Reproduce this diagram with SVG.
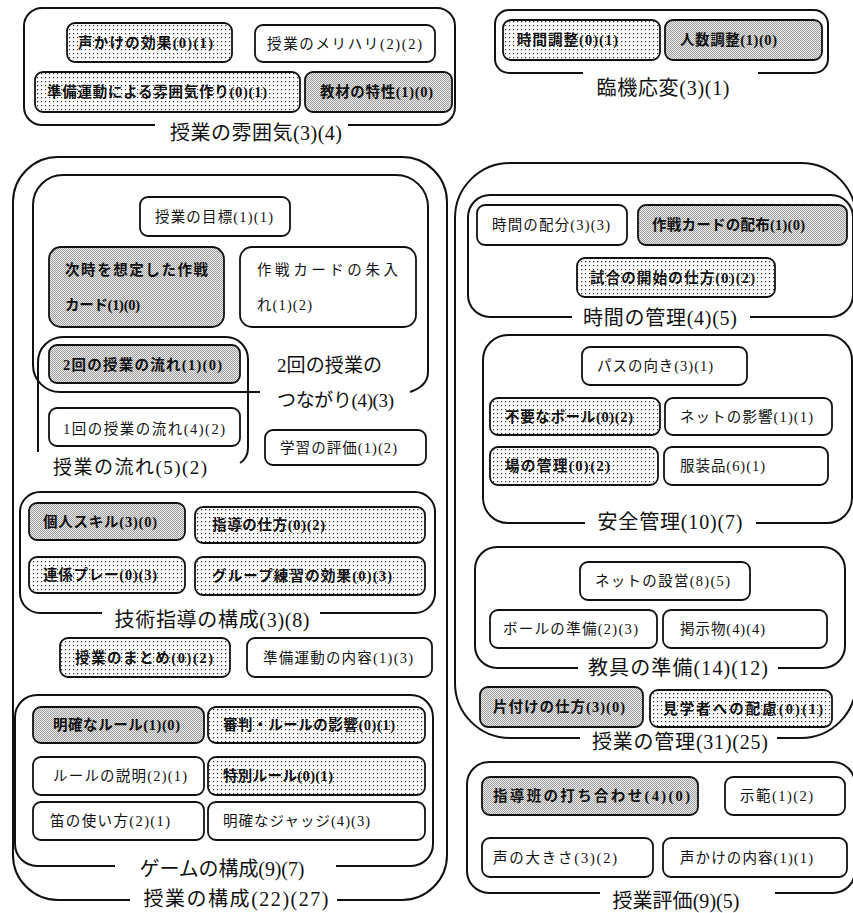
<svg xmlns="http://www.w3.org/2000/svg" width="853" height="913" viewBox="0 0 853 913">
<defs>
<pattern id="gray" width="2" height="2" patternUnits="userSpaceOnUse"><rect width="2" height="2" fill="#ececec"/><rect width="1" height="1" fill="#9e9e9e"/><rect x="1" y="1" width="1" height="1" fill="#9e9e9e"/></pattern>
<pattern id="dots" width="4" height="4" patternUnits="userSpaceOnUse"><rect width="4" height="4" fill="#fff"/><rect x="1" y="1" width="1.2" height="1.2" fill="#333"/></pattern>
<style>
.grp{fill:none;stroke:#111;stroke-width:2}
.n rect{stroke:#111;stroke-width:1.8}
.w rect{fill:#fff}
.g rect{fill:url(#gray)}
.d rect{fill:url(#dots)}
text{font-family:"Liberation Serif","Noto Sans CJK JP",serif;fill:#111}
.n text{font-size:14.5px;dominant-baseline:central}
.g text,.d text{font-weight:bold}
.lbl{font-size:20px;dominant-baseline:central;text-anchor:middle}
.lbs{font-size:19px;dominant-baseline:central}
</style>
</defs>

<g id="groups">
<g id="grp-fun"><path class="grp" d="M348,125 L437,125 A18,18 0 0 0 455,107 L455,26 A18,18 0 0 0 437,8 L42,8 A18,18 0 0 0 24,26 L24,107 A18,18 0 0 0 42,125 L155,125"/><text class="lbl" x="256" y="133" textLength="172" lengthAdjust="spacing">授業の雰囲気(3)(4)</text></g>
<g id="grp-rinki"><path class="grp" d="M758,73 L814,73 A14,14 0 0 0 828,59 L828,24 A14,14 0 0 0 814,10 L509,10 A14,14 0 0 0 495,24 L495,59 A14,14 0 0 0 509,73 L583,73"/><text class="lbl" x="663" y="88" textLength="133" lengthAdjust="spacing">臨機応変(3)(1)</text></g>
<g id="grp-kosei"><path class="grp" d="M337,900 L402,900 A45,45 0 0 0 447,855 L447,202 A45,45 0 0 0 402,157 L58,157 A45,45 0 0 0 13,202 L13,855 A45,45 0 0 0 58,900 L130,900"/><text class="lbl" x="236" y="899" textLength="185" lengthAdjust="spacing">授業の構成(22)(27)</text></g>
<g id="grp-tsunagari"><path class="grp" d="M260,392 L60,392 A27,27 0 0 1 33,365 L33,205 A30,30 0 0 1 63,175 L396,175 A32,32 0 0 1 428,207 L428,372 Q428,386 410,392"/><text class="lbs" x="277" y="365" textLength="105" lengthAdjust="spacing">2回の授業の</text><text class="lbs" x="277" y="400" textLength="117" lengthAdjust="spacing">つながり(4)(3)</text></g>
<g id="grp-nagare"><path class="grp" d="M38,452 L38,362 A25,25 0 0 1 63,337 L226,337 A22,22 0 0 1 248,359 L248,448 Q248,458 240,463"/><text class="lbs" x="53" y="467" textLength="154" lengthAdjust="spacing">授業の流れ(5)(2)</text></g>
<g id="grp-gijutsu"><path class="grp" d="M320,613 L415,613 A20,20 0 0 0 435,593 L435,512 A20,20 0 0 0 415,492 L40,492 A20,20 0 0 0 20,512 L20,593 A20,20 0 0 0 40,613 L102,613"/><text class="lbl" x="212" y="620" textLength="195" lengthAdjust="spacing">技術指導の構成(3)(8)</text></g>
<g id="grp-game"><path class="grp" d="M336,866 L411,866 A22,22 0 0 0 433,844 L433,717 A22,22 0 0 0 411,695 L37,695 A22,22 0 0 0 15,717 L15,844 A22,22 0 0 0 37,866 L115,866"/><text class="lbl" x="222" y="869" textLength="165" lengthAdjust="spacing">ゲームの構成(9)(7)</text></g>
<g id="grp-kanri"><path class="grp" d="M777,738 L801,738 A55,55 0 0 0 856,683 L856,218 A55,55 0 0 0 801,163 L510,163 A55,55 0 0 0 455,218 L455,683 A55,55 0 0 0 510,738 L580,738"/><text class="lbl" x="680" y="742" textLength="176" lengthAdjust="spacing">授業の管理(31)(25)</text></g>
<g id="grp-jikan"><path class="grp" d="M750,317 L831,317 A22,22 0 0 0 853,295 L853,217 A22,22 0 0 0 831,195 L490,195 A22,22 0 0 0 468,217 L468,295 A22,22 0 0 0 490,317 L572,317"/><text class="lbl" x="660" y="318" textLength="154" lengthAdjust="spacing">時間の管理(4)(5)</text></g>
<g id="grp-anzen"><path class="grp" d="M756,523 L827,523 A25,25 0 0 0 852,498 L852,360 A25,25 0 0 0 827,335 L508,335 A25,25 0 0 0 483,360 L483,498 A25,25 0 0 0 508,523 L585,523"/><text class="lbl" x="670" y="522" textLength="145" lengthAdjust="spacing">安全管理(10)(7)</text></g>
<g id="grp-kyogu"><path class="grp" d="M778,668 L823,668 A22,22 0 0 0 845,646 L845,569 A22,22 0 0 0 823,547 L497,547 A22,22 0 0 0 475,569 L475,646 A22,22 0 0 0 497,668 L578,668"/><text class="lbl" x="678" y="668" textLength="180" lengthAdjust="spacing">教具の準備(14)(12)</text></g>
<g id="grp-hyoka"><path class="grp" d="M775,893 L833,893 A22,22 0 0 0 855,871 L855,784 A22,22 0 0 0 833,762 L489,762 A22,22 0 0 0 467,784 L467,871 A22,22 0 0 0 489,893 L600,893"/><text class="lbl" x="676" y="901" textLength="127" lengthAdjust="spacing">授業評価(9)(5)</text></g>
</g>

<g id="n1" class="n d"><rect x="67" y="23" width="165" height="39" rx="8"/><text x="78" y="43" textLength="135" lengthAdjust="spacing">声かけの効果(0)(1)</text></g>
<g id="n2" class="n w"><rect x="255" y="25" width="180" height="37" rx="8"/><text x="267" y="44" textLength="155" lengthAdjust="spacing">授業のメリハリ(2)(2)</text></g>
<g id="n3" class="n d"><rect x="35" y="72" width="265" height="40" rx="8"/><text x="47" y="92" textLength="220" lengthAdjust="spacing">準備運動による雰囲気作り(0)(1)</text></g>
<g id="n4" class="n g"><rect x="305" y="72" width="147" height="40" rx="8"/><text x="320" y="92" textLength="113" lengthAdjust="spacing">教材の特性(1)(0)</text></g>
<g id="n5" class="n d"><rect x="503" y="20" width="157" height="40" rx="8"/><text x="517" y="40" textLength="101" lengthAdjust="spacing">時間調整(0)(1)</text></g>
<g id="n6" class="n g"><rect x="665" y="20" width="157" height="40" rx="8"/><text x="680" y="40" textLength="97" lengthAdjust="spacing">人数調整(1)(0)</text></g>

<g id="n7" class="n w"><rect x="140" y="197" width="150" height="39" rx="8"/><text x="155" y="217" textLength="118" lengthAdjust="spacing">授業の目標(1)(1)</text></g>
<g id="n8" class="n g"><rect x="49" y="247" width="175" height="80" rx="12"/><text x="65" y="270" textLength="143" lengthAdjust="spacing">次時を想定した作戦</text><text x="65" y="305" textLength="75" lengthAdjust="spacing">カード(1)(0)</text></g>
<g id="n9" class="n w"><rect x="240" y="247" width="176" height="80" rx="12"/><text x="257" y="270" textLength="141" lengthAdjust="spacing">作戦カードの朱入</text><text x="257" y="305" textLength="55" lengthAdjust="spacing">れ(1)(2)</text></g>
<g id="n10" class="n g"><rect x="49" y="345" width="191" height="38" rx="8"/><text x="63" y="365" textLength="159" lengthAdjust="spacing">2回の授業の流れ(1)(0)</text></g>
<g id="n11" class="n w"><rect x="49" y="408" width="191" height="38" rx="8"/><text x="63" y="429" textLength="162" lengthAdjust="spacing">1回の授業の流れ(4)(2)</text></g>
<g id="n12" class="n w"><rect x="265" y="430" width="161" height="35" rx="8"/><text x="280" y="448" textLength="117" lengthAdjust="spacing">学習の評価(1)(2)</text></g>

<g id="n13" class="n g"><rect x="29" y="503" width="156" height="37" rx="8"/><text x="43" y="522" textLength="114" lengthAdjust="spacing">個人スキル(3)(0)</text></g>
<g id="n14" class="n d"><rect x="195" y="507" width="230" height="36" rx="8"/><text x="212" y="525" textLength="113" lengthAdjust="spacing">指導の仕方(0)(2)</text></g>
<g id="n15" class="n d"><rect x="29" y="557" width="156" height="36" rx="8"/><text x="43" y="575" textLength="114" lengthAdjust="spacing">連係プレー(0)(3)</text></g>
<g id="n16" class="n d"><rect x="195" y="557" width="230" height="38" rx="8"/><text x="212" y="576" textLength="180" lengthAdjust="spacing">グループ練習の効果(0)(3)</text></g>
<g id="n17" class="n d"><rect x="60" y="638" width="170" height="39" rx="8"/><text x="75" y="658" textLength="138" lengthAdjust="spacing">授業のまとめ(0)(2)</text></g>
<g id="n18" class="n w"><rect x="247" y="638" width="185" height="39" rx="8"/><text x="263" y="658" textLength="150" lengthAdjust="spacing">準備運動の内容(1)(3)</text></g>

<g id="n19" class="n g"><rect x="33" y="707" width="171" height="36" rx="8"/><text x="53" y="725" textLength="127" lengthAdjust="spacing">明確なルール(1)(0)</text></g>
<g id="n20" class="n d"><rect x="208" y="707" width="217" height="36" rx="8"/><text x="223" y="725" textLength="172" lengthAdjust="spacing">審判・ルールの影響(0)(1)</text></g>
<g id="n21" class="n w"><rect x="33" y="757" width="171" height="38" rx="8"/><text x="53" y="776" textLength="134" lengthAdjust="spacing">ルールの説明(2)(1)</text></g>
<g id="n22" class="n d"><rect x="208" y="757" width="217" height="38" rx="8"/><text x="223" y="776" textLength="110" lengthAdjust="spacing">特別ルール(0)(1)</text></g>
<g id="n23" class="n w"><rect x="33" y="802" width="171" height="38" rx="8"/><text x="50" y="821" textLength="120" lengthAdjust="spacing">笛の使い方(2)(1)</text></g>
<g id="n24" class="n w"><rect x="208" y="802" width="217" height="38" rx="8"/><text x="223" y="821" textLength="147" lengthAdjust="spacing">明確なジャッジ(4)(3)</text></g>

<g id="n25" class="n w"><rect x="477" y="205" width="150" height="40" rx="8"/><text x="492" y="225" textLength="118" lengthAdjust="spacing">時間の配分(3)(3)</text></g>
<g id="n26" class="n g"><rect x="638" y="205" width="209" height="40" rx="8"/><text x="652" y="225" textLength="153" lengthAdjust="spacing">作戦カードの配布(1)(0)</text></g>
<g id="n27" class="n d"><rect x="577" y="258" width="198" height="39" rx="8"/><text x="590" y="278" textLength="165" lengthAdjust="spacing">試合の開始の仕方(0)(2)</text></g>
<g id="n28" class="n w"><rect x="582" y="347" width="165" height="38" rx="8"/><text x="597" y="366" textLength="116" lengthAdjust="spacing">パスの向き(3)(1)</text></g>
<g id="n29" class="n d"><rect x="490" y="398" width="170" height="37" rx="8"/><text x="505" y="417" textLength="128" lengthAdjust="spacing">不要なボール(0)(2)</text></g>
<g id="n30" class="n w"><rect x="665" y="398" width="167" height="37" rx="8"/><text x="680" y="417" textLength="133" lengthAdjust="spacing">ネットの影響(1)(1)</text></g>
<g id="n31" class="n d"><rect x="490" y="447" width="168" height="38" rx="8"/><text x="505" y="466" textLength="105" lengthAdjust="spacing">場の管理(0)(2)</text></g>
<g id="n32" class="n w"><rect x="664" y="447" width="164" height="38" rx="8"/><text x="680" y="466" textLength="85" lengthAdjust="spacing">服装品(6)(1)</text></g>
<g id="n33" class="n w"><rect x="580" y="562" width="170" height="38" rx="8"/><text x="595" y="581" textLength="135" lengthAdjust="spacing">ネットの設営(8)(5)</text></g>
<g id="n34" class="n w"><rect x="490" y="610" width="167" height="38" rx="8"/><text x="503" y="629" textLength="135" lengthAdjust="spacing">ボールの準備(2)(3)</text></g>
<g id="n35" class="n w"><rect x="663" y="610" width="164" height="38" rx="8"/><text x="680" y="629" textLength="85" lengthAdjust="spacing">掲示物(4)(4)</text></g>
<g id="n36" class="n g"><rect x="480" y="687" width="163" height="40" rx="8"/><text x="493" y="707" textLength="132" lengthAdjust="spacing">片付けの仕方(3)(0)</text></g>
<g id="n37" class="n d"><rect x="650" y="690" width="182" height="37" rx="8"/><text x="663" y="709" textLength="160" lengthAdjust="spacing">見学者への配慮(0)(1)</text></g>
<g id="n38" class="n g"><rect x="482" y="777" width="216" height="38" rx="8"/><text x="493" y="796" textLength="197" lengthAdjust="spacing">指導班の打ち合わせ(4)(0)</text></g>
<g id="n39" class="n w"><rect x="725" y="777" width="120" height="38" rx="8"/><text x="740" y="796" textLength="73" lengthAdjust="spacing">示範(1)(2)</text></g>
<g id="n40" class="n w"><rect x="482" y="838" width="171" height="39" rx="8"/><text x="493" y="858" textLength="124" lengthAdjust="spacing">声の大きさ(3)(2)</text></g>
<g id="n41" class="n w"><rect x="663" y="838" width="184" height="39" rx="8"/><text x="680" y="858" textLength="133" lengthAdjust="spacing">声かけの内容(1)(1)</text></g>

<g id="connectors"></g>
</svg>
